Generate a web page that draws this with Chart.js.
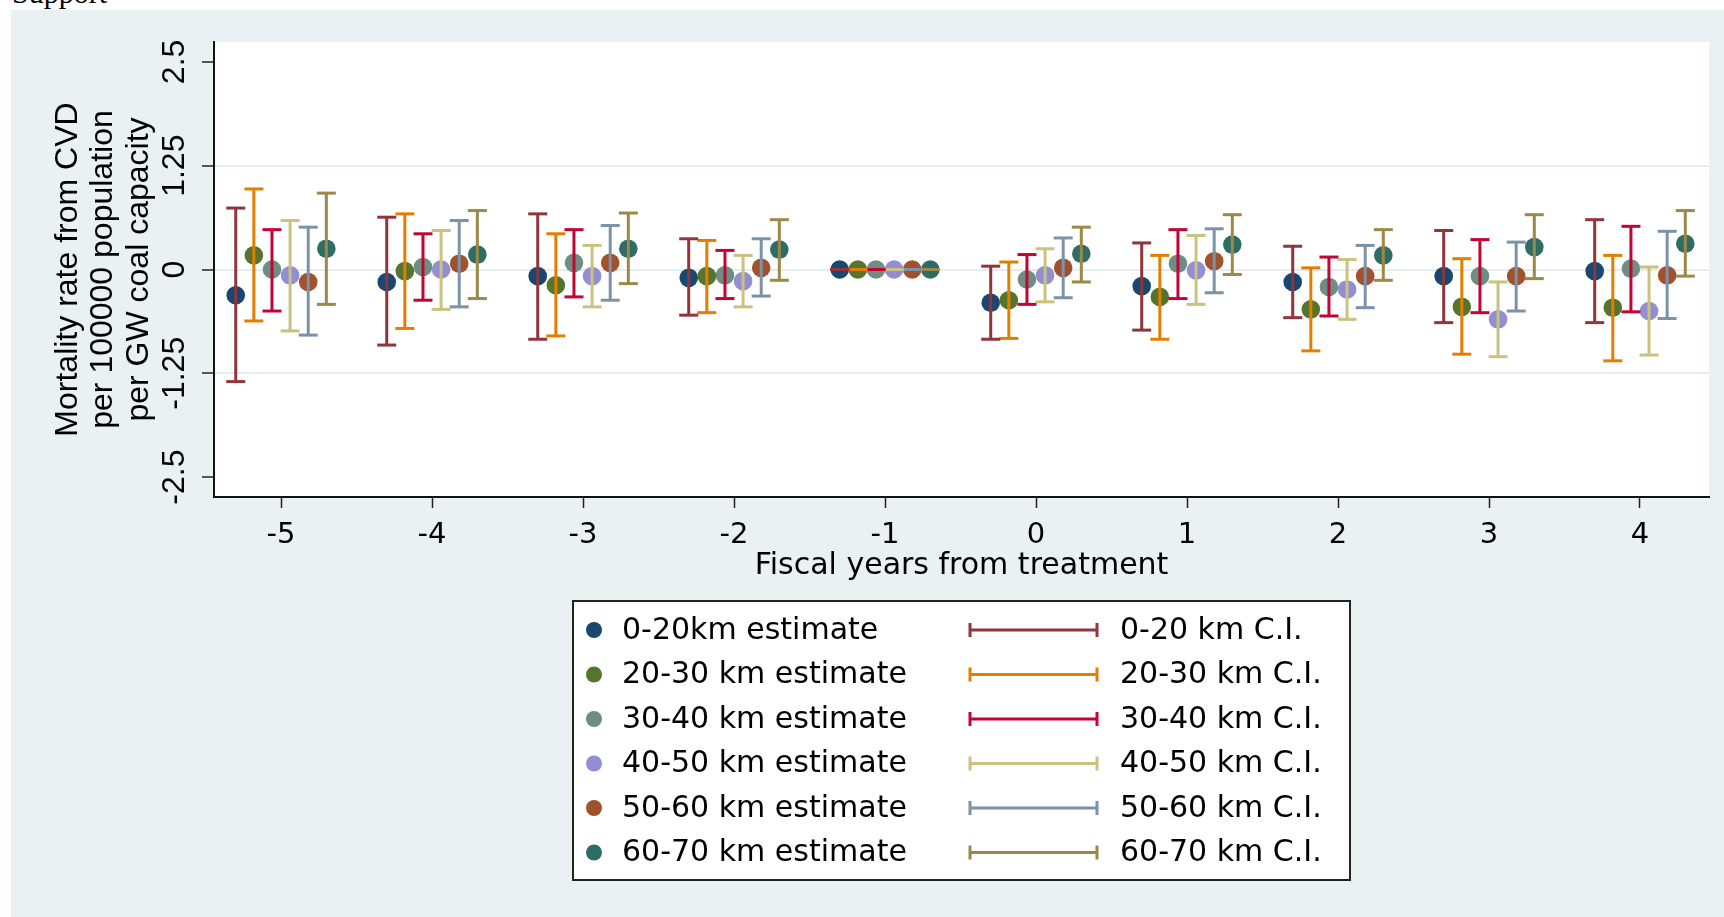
<!DOCTYPE html>
<html>
<head>
<meta charset="utf-8">
<title>Mortality rate from CVD by distance band</title>
<script src="https://cdn.jsdelivr.net/npm/chart.js@4.4.1/dist/chart.umd.min.js"></script>
<style>
  html, body { margin: 0; padding: 0; background: #fff; width: 1724px; height: 917px; overflow: hidden; }
  #caption { position: absolute; left: 12px; top: -22px; font: 30px "Liberation Serif", "Times New Roman", serif; line-height: 30px; color: #000; }
  #c { position: absolute; left: 11px; top: 10px; }
</style>
</head>
<body>
<div id="caption">Support</div>
<canvas id="c" width="1713" height="907"></canvas>
<script>
// event-study years and distance bands
const years = [-5, -4, -3, -2, -1, 0, 1, 2, 3, 4];
const bands = ['0-20', '20-30', '30-40', '40-50', '50-60', '60-70'];
const estLabels = ['0-20km estimate', '20-30 km estimate', '30-40 km estimate', '40-50 km estimate', '50-60 km estimate', '60-70 km estimate'];
const ciLabels = ['0-20 km C.I.', '20-30 km C.I.', '30-40 km C.I.', '40-50 km C.I.', '50-60 km C.I.', '60-70 km C.I.'];

// point estimates (year -1 is the omitted base year)
const est0_20  = [-0.31, -0.15, -0.08, -0.10, 0, -0.40, -0.20, -0.15, -0.08, -0.02];
const est20_30 = [ 0.17, -0.02, -0.19, -0.08, 0, -0.37, -0.33, -0.48, -0.45, -0.46];
const est30_40 = [ 0.00,  0.03,  0.08, -0.07, 0, -0.12,  0.07, -0.21, -0.08,  0.01];
const est40_50 = [-0.07,  0.00, -0.08, -0.14, 0, -0.07, -0.01, -0.24, -0.60, -0.50];
const est50_60 = [-0.15,  0.07,  0.08,  0.02, 0,  0.02,  0.10, -0.08, -0.08, -0.07];
const est60_70 = [ 0.25,  0.18,  0.25,  0.24, 0,  0.19,  0.30,  0.17,  0.27,  0.31];

// confidence interval bounds
const lo0_20  = [-1.35, -0.91, -0.84, -0.55, 0, -0.84, -0.73, -0.58, -0.64, -0.64];
const hi0_20  = [ 0.74,  0.63,  0.67,  0.37, 0,  0.04,  0.32,  0.28,  0.47,  0.60];
const lo20_30 = [-0.62, -0.71, -0.80, -0.52, 0, -0.83, -0.84, -0.98, -1.02, -1.10];
const hi20_30 = [ 0.97,  0.67,  0.43,  0.35, 0,  0.09,  0.17,  0.02,  0.13,  0.17];
const lo30_40 = [-0.50, -0.37, -0.33, -0.35, 0, -0.42, -0.35, -0.56, -0.52, -0.51];
const hi30_40 = [ 0.48,  0.43,  0.48,  0.23, 0,  0.18,  0.48,  0.15,  0.36,  0.52];
const lo40_50 = [-0.74, -0.48, -0.45, -0.45, 0, -0.39, -0.42, -0.60, -1.05, -1.03];
const hi40_50 = [ 0.59,  0.47,  0.29,  0.17, 0,  0.25,  0.41,  0.12, -0.15,  0.03];
const lo50_60 = [-0.79, -0.45, -0.37, -0.32, 0, -0.34, -0.28, -0.46, -0.50, -0.59];
const hi50_60 = [ 0.51,  0.59,  0.53,  0.37, 0,  0.38,  0.49,  0.29,  0.33,  0.46];
const lo60_70 = [-0.42, -0.35, -0.17, -0.13, 0, -0.15, -0.06, -0.13, -0.11, -0.08];
const hi60_70 = [ 0.92,  0.71,  0.68,  0.60, 0,  0.51,  0.66,  0.48,  0.66,  0.71];

// axis ticks
const yTicks = [-2.5, -1.25, 0, 1.25, 2.5];
const yTickLabels = ['-2.5', '-1.25', '0', '1.25', '2.5'];

const estimates = [est0_20, est20_30, est30_40, est40_50, est50_60, est60_70];
const lows = [lo0_20, lo20_30, lo30_40, lo40_50, lo50_60, lo60_70];
const highs = [hi0_20, hi20_30, hi30_40, hi40_50, hi50_60, hi60_70];

// stata s2color-like palette
const estColors = ['#1a476f', '#55752f', '#6e8e84', '#938dd2', '#a0522d', '#2d6d66'];
const ciColors = ['#90353b', '#e37e00', '#c10534', '#cac27e', '#7b92a8', '#9c8847'];
const panelColor = '#e9f1f3';
const gridColor = '#e4edef';

// horizontal dodge of each band around its year
const dodge = [-0.3, -0.18, -0.06, 0.06, 0.18, 0.3];

const datasets = [];
bands.forEach((b, k) => {
  // C.I. whiskers: vertical segment with caps, broken between years by null points
  const seg = [];
  years.forEach((yr, i) => {
    const x = yr + dodge[k];
    seg.push({ x: x, y: lows[k][i] }, { x: x, y: highs[k][i] }, { x: x, y: null });
  });
  datasets.push({
    label: ciLabels[k],
    data: seg,
    showLine: true,
    spanGaps: false,
    borderColor: ciColors[k],
    borderWidth: 3,
    pointStyle: 'line',
    pointRadius: 9.5,
    pointBorderWidth: 3,
    pointBorderColor: ciColors[k],
    pointHoverRadius: 9.5,
    order: 0
  });
});
bands.forEach((b, k) => {
  datasets.push({
    label: estLabels[k],
    data: years.map((yr, i) => ({ x: yr + dodge[k], y: estimates[k][i] })),
    pointRadius: 9.3,
    pointHoverRadius: 9.3,
    pointBorderWidth: 0,
    pointBackgroundColor: estColors[k],
    pointBorderColor: estColors[k],
    order: 1
  });
});

const panelPlugin = {
  id: 'panel',
  beforeDraw(chart) {
    const { ctx, chartArea: a } = chart;
    ctx.save();
    ctx.fillStyle = panelColor;
    ctx.fillRect(0, 0, chart.width, chart.height);
    ctx.fillStyle = '#fff';
    ctx.fillRect(a.left, a.top, a.right - a.left, a.bottom - a.top);
    ctx.restore();
  }
};

// y tick labels are drawn rotated, reading upwards
const yLabelPlugin = {
  id: 'ylabels',
  afterDraw(chart) {
    const { ctx } = chart;
    const sc = chart.scales.y;
    ctx.save();
    ctx.fillStyle = '#000';
    ctx.font = '32px "Liberation Sans", Arial, sans-serif';
    ctx.textAlign = 'center';
    ctx.textBaseline = 'middle';
    yTicks.forEach((v, i) => {
      ctx.save();
      ctx.translate(164, sc.getPixelForValue(v));
      ctx.rotate(-Math.PI / 2);
      ctx.fillText(yTickLabels[i], 0, 0);
      ctx.restore();
    });
    ctx.restore();
  }
};

// two-column boxed legend: estimates on the left, C.I. on the right
const legendPlugin = {
  id: 'boxLegend',
  afterDraw(chart) {
    const { ctx } = chart;
    const box = { x: 562, y: 591, w: 777, h: 279 };
    ctx.save();
    ctx.fillStyle = '#fff';
    ctx.fillRect(box.x, box.y, box.w, box.h);
    ctx.strokeStyle = '#222';
    ctx.lineWidth = 2;
    ctx.strokeRect(box.x, box.y, box.w, box.h);
    ctx.font = '30px "DejaVu Sans", sans-serif';
    ctx.textBaseline = 'middle';
    ctx.textAlign = 'left';
    bands.forEach((b, k) => {
      const y = 620 + k * 44.5;
      ctx.fillStyle = estColors[k];
      ctx.beginPath();
      ctx.arc(583, y, 8, 0, Math.PI * 2);
      ctx.fill();
      ctx.fillStyle = '#000';
      ctx.fillText(estLabels[k], 611, y + 1);

      ctx.strokeStyle = ciColors[k];
      ctx.lineWidth = 3;
      ctx.beginPath();
      ctx.moveTo(958, y); ctx.lineTo(1087, y);
      ctx.moveTo(959, y - 7); ctx.lineTo(959, y + 7);
      ctx.moveTo(1086, y - 7); ctx.lineTo(1086, y + 7);
      ctx.stroke();
      ctx.fillStyle = '#000';
      ctx.fillText(ciLabels[k], 1109, y + 1);
    });
    ctx.restore();
  }
};

Chart.defaults.color = '#000';
Chart.defaults.font.family = '"DejaVu Sans", sans-serif';

new Chart(document.getElementById('c'), {
  type: 'scatter',
  data: { datasets: datasets },
  options: {
    responsive: false,
    devicePixelRatio: 1,
    animation: false,
    events: [],
    layout: { padding: { top: 32, right: 15, bottom: 330, left: 0 } },
    plugins: {
      legend: { display: false },
      tooltip: { enabled: false }
    },
    scales: {
      x: {
        type: 'linear',
        min: -5.444,
        max: 4.457,
        afterBuildTicks: (s) => { s.ticks = years.map(v => ({ value: v })); },
        afterFit: (s) => { s.height = 90; },
        grid: { drawOnChartArea: false, drawTicks: true, tickLength: 11, tickColor: '#222', tickWidth: 1.5 },
        border: { display: true, color: '#111', width: 2 },
        ticks: { padding: 10, font: { size: 29 }, color: '#000', maxRotation: 0, callback: (v) => String(v) },
        title: { display: true, text: 'Fiscal years from treatment', font: { size: 30 }, padding: { top: 0, bottom: 3 } }
      },
      y: {
        type: 'linear',
        min: -2.74,
        max: 2.74,
        afterBuildTicks: (s) => { s.ticks = yTicks.map(v => ({ value: v })); },
        afterFit: (s) => { s.width = 203; },
        grid: {
          drawOnChartArea: true,
          color: (c) => (c.tick && Math.abs(c.tick.value) === 2.5 ? 'rgba(0,0,0,0)' : gridColor),
          lineWidth: 2,
          drawTicks: true,
          tickLength: 12,
          tickColor: '#222',
          tickWidth: 1.5
        },
        border: { display: true, color: '#111', width: 2 },
        ticks: { display: false },
        title: {
          display: true,
          text: ['Mortality rate from CVD', 'per 100000 population', 'per GW coal capacity'],
          font: { family: '"Liberation Sans", Arial, sans-serif', size: 32, lineHeight: 1.11 },
          padding: { top: 39, bottom: 0 }
        }
      }
    }
  },
  plugins: [panelPlugin, yLabelPlugin, legendPlugin]
});
</script>
</body>
</html>
